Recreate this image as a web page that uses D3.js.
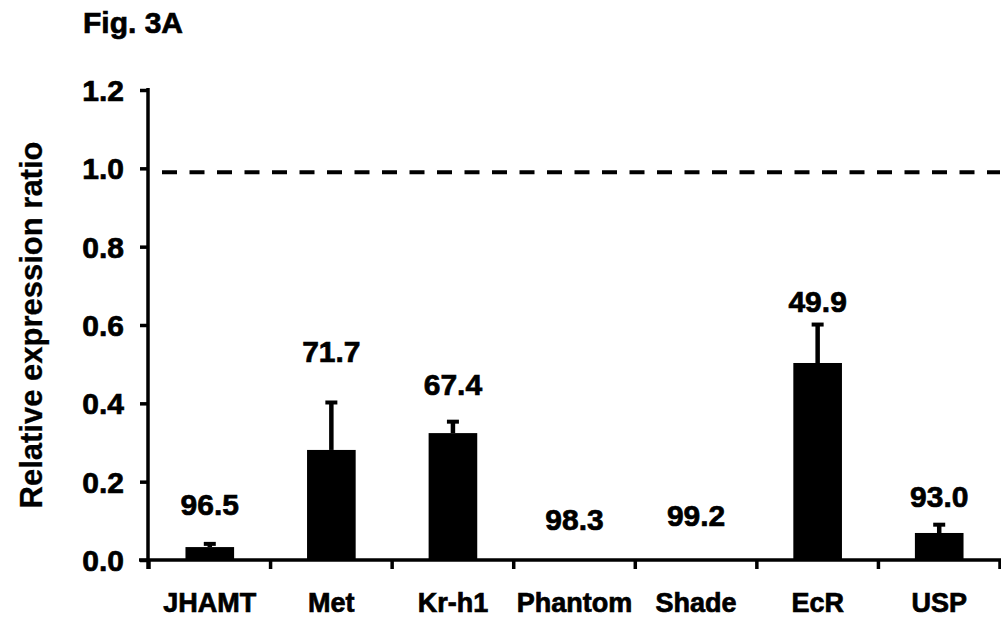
<!DOCTYPE html>
<html>
<head>
<meta charset="utf-8">
<script src="https://cdn.jsdelivr.net/npm/d3@7"></script>
<style>
  body { margin: 0; background: #fff; }
  text { font-family: "Liberation Sans", Arial, sans-serif; font-weight: bold; fill: #000; stroke: #000; stroke-width: 0.7px; }
</style>
</head>
<body>
<div id="chart"></div>
<script>
// genes on the x axis
const genes = ["JHAMT", "Met", "Kr-h1", "Phantom", "Shade", "EcR", "USP"];
// relative expression ratio (mean) and standard error
const ratio = [0.033, 0.281, 0.324, 0, 0, 0.503, 0.069];
const stdErr = [0.012, 0.125, 0.033, 0, 0, 0.102, 0.025];
// % knockdown printed above each bar
const knockdown = ["96.5", "71.7", "67.4", "98.3", "99.2", "49.9", "93.0"];
// control reference level
const controlLevel = 0.99;
const yTicks = [0, 0.2, 0.4, 0.6, 0.8, 1.0, 1.2];

const width = 1001;
const height = 620;
const margin = { top: 90, right: 1, bottom: 60, left: 149 };
const plotW = width - margin.left - margin.right;
const plotH = height - margin.top - margin.bottom;

// label baselines sit a little above each bar, gaps as in the figure
const labelGap = [27, 39, 25, 30, 34, 11, 16];

const svg = d3.select('#chart')
    .append('svg')
    .attr('width', width)
    .attr('height', height);

const g = svg.append('g')
    .attr('transform', `translate(${margin.left},${margin.top})`);

const x = d3.scaleBand()
    .domain(genes)
    .range([0, plotW]);

const y = d3.scaleLinear()
    .domain([0, 1.2])
    .range([plotH, 0]);

const barW = x.bandwidth() * 0.4;

// title
svg.append('text')
    .attr('x', 83)
    .attr('y', 33)
    .style('font-size', '30px')
    .text('Fig. 3A');

// y axis
const yAxis = g.append('g')
    .call(d3.axisLeft(y).tickValues(yTicks).tickFormat(d3.format('.1f')).tickSize(9).tickPadding(16));
yAxis.select('.domain').remove();
yAxis.selectAll('line').attr('stroke', '#000').attr('stroke-width', 3.5);
yAxis.selectAll('text').style('font-size', '30px').attr('dy', '0.35em');

g.append('line')
    .attr('x1', -1).attr('x2', -1)
    .attr('y1', y(1.2) - 2).attr('y2', plotH + 9)
    .attr('stroke', '#000').attr('stroke-width', 3.5);

// x axis
const xAxis = g.append('g')
    .attr('transform', `translate(0,${plotH})`)
    .call(d3.axisBottom(x).tickSize(0).tickPadding(33));
xAxis.select('.domain').remove();
xAxis.selectAll('text').style('font-size', '27px').attr('dy', '0.71em');

g.append('line')
    .attr('x1', -10).attr('x2', plotW + 2)
    .attr('y1', plotH).attr('y2', plotH)
    .attr('stroke', '#000').attr('stroke-width', 3.5);

// tick marks between categories
const boundaries = genes.map(d => x(d)).concat([plotW]);
g.selectAll('.xtick')
    .data(boundaries)
    .enter()
    .append('line')
    .attr('class', 'xtick')
    .attr('x1', d => d).attr('x2', d => d)
    .attr('y1', plotH).attr('y2', plotH + 9)
    .attr('stroke', '#000').attr('stroke-width', 3.5);

// control dashed line
g.append('line')
    .attr('x1', 13).attr('x2', plotW)
    .attr('y1', y(controlLevel)).attr('y2', y(controlLevel))
    .attr('stroke', '#000')
    .attr('stroke-width', 4)
    .attr('stroke-dasharray', '15,12.5');

const data = genes.map((d, i) => ({ gene: d, mean: ratio[i], err: stdErr[i], label: knockdown[i], gap: labelGap[i] }));

// error bars
const withErr = data.filter(d => d.err > 0);
g.selectAll('.err')
    .data(withErr)
    .enter()
    .append('line')
    .attr('class', 'err')
    .attr('x1', d => x(d.gene) + x.bandwidth() / 2)
    .attr('x2', d => x(d.gene) + x.bandwidth() / 2)
    .attr('y1', d => y(d.mean))
    .attr('y2', d => y(d.mean + d.err))
    .attr('stroke', '#000')
    .attr('stroke-width', 4.5);

g.selectAll('.cap')
    .data(withErr)
    .enter()
    .append('line')
    .attr('class', 'cap')
    .attr('x1', d => x(d.gene) + x.bandwidth() / 2 - 6)
    .attr('x2', d => x(d.gene) + x.bandwidth() / 2 + 6)
    .attr('y1', d => y(d.mean + d.err) + 1.5)
    .attr('y2', d => y(d.mean + d.err) + 1.5)
    .attr('stroke', '#000')
    .attr('stroke-width', 4);

// bars
g.selectAll('.bar')
    .data(data)
    .enter()
    .append('rect')
    .attr('class', 'bar')
    .attr('x', d => x(d.gene) + (x.bandwidth() - barW) / 2)
    .attr('y', d => y(d.mean))
    .attr('width', barW)
    .attr('height', d => plotH - y(d.mean))
    .attr('fill', '#000');

// knockdown labels
g.selectAll('.pct')
    .data(data)
    .enter()
    .append('text')
    .attr('class', 'pct')
    .attr('x', d => x(d.gene) + x.bandwidth() / 2)
    .attr('y', d => y(d.mean + d.err) - d.gap)
    .attr('text-anchor', 'middle')
    .style('font-size', '30px')
    .text(d => d.label);

// y axis title
svg.append('text')
    .attr('transform', `translate(42,${margin.top + y(0.6)}) rotate(-90)`)
    .attr('text-anchor', 'middle')
    .style('font-size', '31px')
    .style('stroke-width', '0.3px')
    .text('Relative expression ratio');
</script>
</body>
</html>
